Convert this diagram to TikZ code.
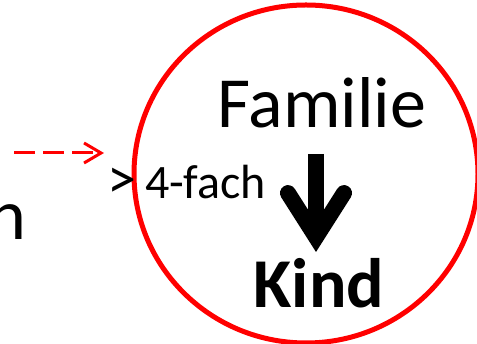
\documentclass[tikz,border=0pt]{standalone}
\usepackage{fontspec}
\setmainfont{Carlito}
\usetikzlibrary{arrows.meta}

\definecolor{ringred}{RGB}{255,0,0}

\begin{document}
\begin{tikzpicture}[x=1pt,y=1pt,
    bigtext/.style={inner sep=0pt,font=\fontsize{72}{86}\selectfont},
    smalltext/.style={inner sep=0pt,font=\fontsize{48}{58}\selectfont}]
\useasboundingbox (0,0) rectangle (477,344);

% ring
\draw[ringred, line width=5pt] (306,170) ellipse (172 and 169);

% texts
\node[bigtext, anchor=base] (fam) at (322,216) {Familie};
\node[bigtext, anchor=base, font=\fontsize{70}{84}\selectfont\bfseries] (kind) at (319,36) {Kind};
\node[smalltext, anchor=base west] (fach) at (107,145) {{\fontsize{58}{58}\selectfont>}\hspace{9pt}4-fach};
\node[bigtext, anchor=base east] (word) at (27,104) {n};

% dashed arrow coming in
\coordinate (src) at (14,191);
\coordinate (dst) at (104,191);
\draw[ringred, line width=3pt, dash pattern=on 21pt off 8pt,
      -{Straight Barb[length=17pt,width=20pt]}] (src) -- (dst);

% big arrow
\draw[line width=16pt,
      -{Straight Barb[length=44pt,width=56pt,line cap=round,line join=miter]}]
  ([xshift=-6pt,yshift=-26pt]fam.base) -- ([xshift=-3pt]kind.north |- 0,92);
\end{tikzpicture}
\end{document}
